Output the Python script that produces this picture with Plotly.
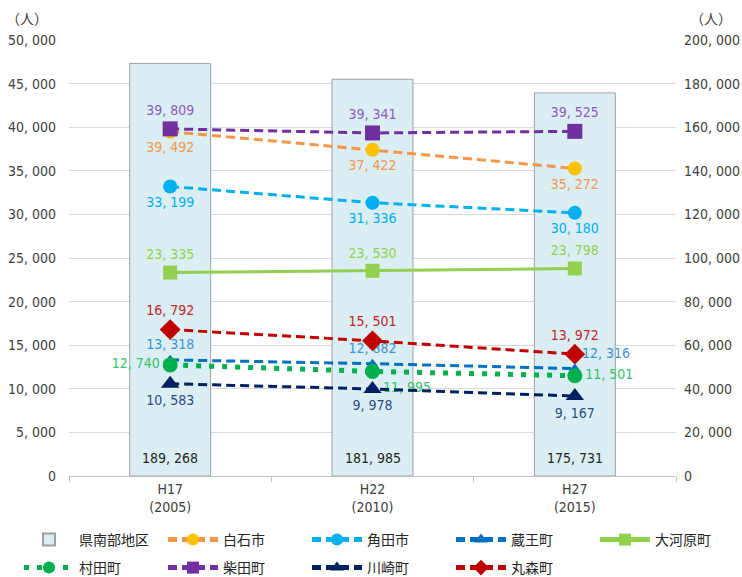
import plotly.graph_objects as go

# Population by year (人)
years = ["H17<br>(2005)", "H22<br>(2010)", "H27<br>(2015)"]

region_total = [189268, 181985, 175731]   # 県南部地区 (right axis)

shiroishi = [39492, 37422, 35272]   # 白石市
kakuda = [33199, 31336, 30180]      # 角田市
zao = [13318, 12882, 12316]         # 蔵王町
ogawara = [23335, 23530, 23798]     # 大河原町
murata = [12740, 11995, 11501]      # 村田町
shibata = [39809, 39341, 39525]     # 柴田町
kawasaki = [10583, 9978, 9167]      # 川崎町
marumori = [16792, 15501, 13972]    # 丸森町

left_ticks = list(range(0, 50001, 5000))
right_ticks = list(range(0, 200001, 20000))

FONT = "DejaVu Sans Condensed, Noto Sans CJK JP"
CJK = "Noto Sans CJK JP"
NUM = 14


def fmt(v):
    return f"{v:,}".replace(",", ", ")


fig = go.Figure()

# regional total as bars on the base (right-hand) axis
fig.add_trace(go.Bar(
    x=years, y=region_total, name="県南部地区",
    marker=dict(color="#DAEEF3", line=dict(color="#A0A0A0", width=1)),
    width=0.4,
    textposition="none",
    yaxis="y", legend="legend",
))

series = [
    ("白石市", shiroishi, "#F79646", "#FFC000", "circle", 14, "9px,5px", 3,
     ["bottom center"] * 3, "#F79646", "legend"),
    ("角田市", kakuda, "#00B0F0", "#00B0F0", "circle", 14, "9px,5px", 3,
     ["bottom center"] * 3, "#00B0F0", "legend"),
    ("蔵王町", zao, "#0070C0", "#0070C0", "triangle-up", 10, "9px,5px", 3,
     ["top center", "top center", "top right"], "#3A93D8", "legend"),
    ("大河原町", ogawara, "#92D050", "#92D050", "square", 14, "solid", 3,
     ["top center"] * 3, "#92D050", "legend3"),
    ("村田町", murata, "#00B050", "#00B050", "circle", 15, "5px,8px", 5,
     ["middle left", "bottom right", "middle right"], "#33C46A", "legend2"),
    ("柴田町", shibata, "#7030A0", "#7030A0", "square", 15, "9px,5px", 3,
     ["top center"] * 3, "#8E5AC0", "legend2"),
    ("川崎町", kawasaki, "#002060", "#002060", "triangle-up", 16, "9px,5px", 3,
     ["bottom center"] * 3, "#2E4A88", "legend2"),
    ("丸森町", marumori, "#C00000", "#C00000", "diamond", 16, "9px,5px", 3,
     ["top center"] * 3, "#C0282D", "legend2"),
]

for name, vals, lc, mc, sym, ms, dash, lw, tpos, tc, lg in series:
    fig.add_trace(go.Scatter(
        x=years, y=vals, name=name, mode="lines+markers+text",
        line=dict(color=lc, width=lw, dash=dash),
        marker=dict(color=mc, symbol=sym, size=ms),
        text=[fmt(v) for v in vals], textposition=tpos,
        textfont=dict(family=FONT, size=NUM, color=tc),
        cliponaxis=False,
        yaxis="y2", legend=lg,
    ))

# bar value labels, lifted a little above the base of each bar
bar_labels = [
    dict(x=yr, y=0, xref="x", yref="y", text=fmt(v), showarrow=False,
         yanchor="middle", yshift=18,
         font=dict(family=FONT, size=NUM, color="#262626"))
    for yr, v in zip(years, region_total)
]

legend_common = dict(
    orientation="h", xanchor="left", yanchor="middle",
    entrywidth=79, entrywidthmode="pixels", itemwidth=50,
    itemsizing="constant",
    font=dict(family=CJK, size=14, color="#262626"),
    traceorder="normal", bgcolor="rgba(0,0,0,0)",
)

fig.update_layout(
    width=742, height=577,
    margin=dict(l=69, r=66, t=40, b=101, autoexpand=False),
    plot_bgcolor="white", paper_bgcolor="white",
    font=dict(family=FONT, size=NUM, color="#404040"),
    bargap=0.6,
    xaxis=dict(
        type="category", showline=True, linecolor="#BFBFBF", linewidth=1,
        ticks="outside", tickson="boundaries", ticklen=5, tickcolor="#BFBFBF",
        showgrid=False, tickfont=dict(family=FONT, size=NUM, color="#404040"),
    ),
    yaxis=dict(
        side="right", range=[0, 200000], tickvals=right_ticks,
        ticktext=[fmt(v) for v in right_ticks],
        showgrid=True, gridcolor="#D9D9D9", gridwidth=1, zeroline=False,
        tickfont=dict(family=FONT, size=NUM, color="#404040"),
        ticks="", ticklabelstandoff=7,
    ),
    yaxis2=dict(
        side="left", overlaying="y", range=[0, 50000], tickvals=left_ticks,
        ticktext=[fmt(v) for v in left_ticks],
        showgrid=False, zeroline=False,
        tickfont=dict(family=FONT, size=NUM, color="#404040"),
        ticks="", ticklabelstandoff=12,
    ),
    legend=dict(x=-0.0824, y=-0.1468, **legend_common),
    legend2=dict(x=-0.0824, y=-0.211, **legend_common),
    legend3=dict(x=0.8666, y=-0.1468, **legend_common),
    annotations=bar_labels + [
        dict(text="（人）", xref="paper", yref="paper", x=-0.069, y=1.0505,
             xanchor="center", yanchor="middle", showarrow=False,
             font=dict(family=CJK, size=14, color="#404040")),
        dict(text="（人）", xref="paper", yref="paper", x=1.058, y=1.0505,
             xanchor="center", yanchor="middle", showarrow=False,
             font=dict(family=CJK, size=14, color="#404040")),
    ],
)

fig.write_html("out.html")
